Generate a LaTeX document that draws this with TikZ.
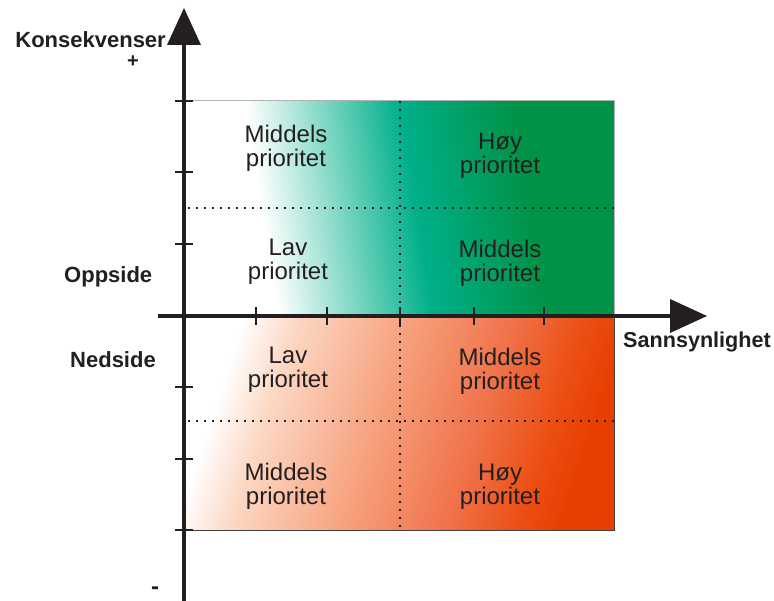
\documentclass[tikz,border=0pt]{standalone}
\usepackage{fontspec}
\setmainfont{Liberation Sans}

\definecolor{ink}{RGB}{35,31,32}
\definecolor{tealmid}{RGB}{0,176,138}
\definecolor{greendark}{RGB}{0,147,72}
\definecolor{peach}{RGB}{252,215,195}
\definecolor{salmon}{RGB}{246,158,122}
\definecolor{coral}{RGB}{240,115,75}
\definecolor{redorange}{RGB}{236,80,20}
\definecolor{deepred}{RGB}{232,62,0}

% upside: white fading into teal and deep green
\pgfdeclarehorizontalshading{upsidefade}{100bp}{%
  color(0bp)=(white); color(33bp)=(white); color(52bp)=(tealmid);
  color(66bp)=(greendark); color(100bp)=(greendark)}
% downside: white fading into salmon and red-orange
\pgfdeclarehorizontalshading{downsidefade}{100bp}{%
  color(0bp)=(white); color(26bp)=(white); color(33bp)=(peach);
  color(48bp)=(salmon); color(60bp)=(coral); color(69bp)=(redorange);
  color(75bp)=(deepred); color(100bp)=(deepred)}

\begin{document}
\begin{tikzpicture}[x=1pt,y=-1pt,
  cell/.style={font=\fontsize{24}{24}\selectfont, align=center, text=ink,
    inner sep=0pt, anchor=base},
  axislabel/.style={font=\bfseries\fontsize{22}{22}\selectfont, text=ink,
    inner sep=0pt},
  axisline/.style={draw=ink, line width=4pt},
  tick/.style={draw=ink, line width=2pt},
  grid/.style={draw=ink, line width=1.6pt, dash pattern=on 1.6pt off 6.4pt},
  arrowhead/.style={fill=ink, draw=none}]

\useasboundingbox (0,0) rectangle (774,601);

% priority fields
\shade[shading=upsidefade, shading angle=9, draw=gray!60, line width=1pt]
  (184,101) rectangle (614,316);
\shade[shading=downsidefade, shading angle=-18, draw=ink!85, line width=1pt]
  (184,316) rectangle (614,530);

% dotted dividers
\draw[grid] (400,101) -- (400,530);
\draw[grid] (188,208) -- (618,208);
\draw[grid] (188,421) -- (618,421);

% axes
\draw[axisline] (184,45) -- (184,601);
\draw[axisline] (158,316) -- (670,316);
\fill[arrowhead] (184,8) -- (201,45) -- (167,45) -- cycle;
\fill[arrowhead] (707,316) -- (670,333) -- (670,299) -- cycle;

% ticks
\foreach \ty in {101,172,244,387,459,530}
  \draw[tick] (175,\ty) -- (193,\ty);
\foreach \tx in {256,327,400,474,544}
  \draw[tick] (\tx,307) -- (\tx,325);

% axis labels
\node[axislabel, text depth=0pt, anchor=base east]
  (konsekvenser) at (166,48) {Konsekvenser};
\node[axislabel, font=\bfseries\fontsize{20}{20}\selectfont,
  text height=10pt, text depth=0pt]
  (plus) at (133,63) {+};
\node[axislabel, font=\bfseries\fontsize{24}{24}\selectfont]
  (minus) at (155,591) {-};
\node[axislabel, anchor=base west] (oppside) at (64,283) {Oppside};
\node[axislabel, anchor=base west] (nedside) at (70,368) {Nedside};
\node[axislabel, font=\bfseries\fontsize{21.6}{22}\selectfont, anchor=base west]
  (sannsynlighet) at (623,348) {Sannsynlighet};

% field labels (anchored at the baseline of the second line)
\node[cell] (ul) at (286,167) {Middels\\prioritet};
\node[cell] (ur) at (500,174) {Høy\\prioritet};
\node[cell] (ml) at (288,280) {Lav\\prioritet};
\node[cell] (mr) at (500,282) {Middels\\prioritet};
\node[cell] (nl) at (288,388) {Lav\\prioritet};
\node[cell] (nr) at (500,390) {Middels\\prioritet};
\node[cell] (ll) at (286,504) {Middels\\prioritet};
\node[cell] (lr) at (500,504) {Høy\\prioritet};

\end{tikzpicture}
\end{document}
